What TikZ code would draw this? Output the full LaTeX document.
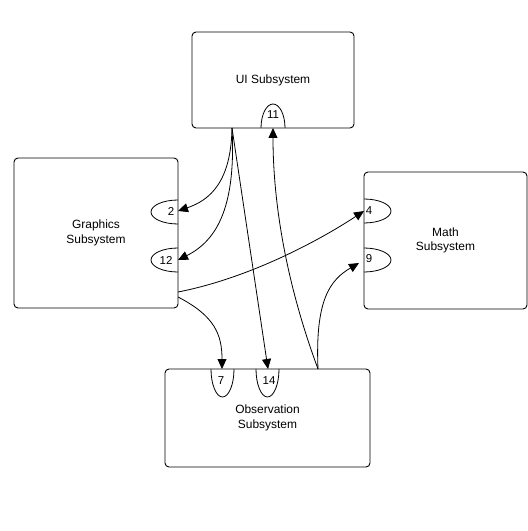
\documentclass[tikz,border=0pt]{standalone}
\usepackage{fontspec}
\setmainfont{Liberation Sans}
\usetikzlibrary{arrows.meta}
\begin{document}
\begin{tikzpicture}[x=1bp,y=-1bp,
  sys/.style={draw,line width=0.9bp,rounded corners=4bp,inner sep=0pt,align=center,
    font=\fontsize{12}{14.5}\selectfont},
  port/.style={draw,line width=0.8bp},
  plabel/.style={inner sep=0pt,font=\fontsize{11.5}{13}\selectfont},
  conn/.style={draw,line width=0.8bp},
  arr/.style={conn,-{Triangle[length=10bp,width=9bp]}}]
\useasboundingbox (0,0) rectangle (528,531);
% boxes
\node[sys,minimum width=162bp,minimum height=96bp] (ui) at (273,80) {UI Subsystem};
\node[sys,minimum width=164bp,minimum height=150bp] (gr) at (96,233) {Graphics\\Subsystem};
\node[sys,minimum width=163bp,minimum height=137bp] (ma) at (445.5,240.5) {Math\\Subsystem};
\node[sys,minimum width=205bp,minimum height=98bp] (ob) at (267.5,418) {Observation\\Subsystem};
% ports
\draw[port] (261,128) arc[start angle=180,end angle=360,x radius=12,y radius=24];
\draw[port] (178,224) arc[start angle=90,end angle=270,x radius=27,y radius=12];
\draw[port] (178,272) arc[start angle=90,end angle=270,x radius=27,y radius=12];
\draw[port] (364,199) arc[start angle=270,end angle=450,x radius=27,y radius=12];
\draw[port] (364,248) arc[start angle=270,end angle=450,x radius=27,y radius=12];
\draw[port] (211,369) arc[start angle=180,end angle=0,x radius=11.5,y radius=28];
\draw[port] (256,369) arc[start angle=180,end angle=0,x radius=11.5,y radius=28];
% port labels
\node[plabel] (p11) at (273,115) {11};
\node[plabel] (p2) at (171,211) {2};
\node[plabel] (p12) at (166,260) {12};
\node[plabel] (p4) at (369,211) {4};
\node[plabel] (p9) at (369,259) {9};
\node[plabel] (p7) at (221,381) {7};
\node[plabel] (p14) at (269,381) {14};
% anchor coordinates
\coordinate (uiout) at (232,128);
\coordinate (in2) at (178,211);
\coordinate (in12) at (178,260);
\coordinate (in14) at (268,369);
\coordinate (in11) at (273,128);
\coordinate (obout) at (318,369);
\coordinate (in9) at (359,263);
\coordinate (grout1) at (178,292);
\coordinate (grout2) at (178,297);
\coordinate (in4) at (364,211);
\coordinate (in7) at (222,369);
% connectors
\draw[arr] (uiout) .. controls (231,182) and (210,200) .. (in2);
\draw[arr] (uiout) .. controls (236,205) and (218,240) .. (in12);
\draw[arr] (uiout) -- (in14);
\draw[arr] (obout) .. controls (285,280) and (273,200) .. (in11);
\draw[arr] (obout) .. controls (315,300) and (330,280) .. (in9);
\draw[arr] (grout1) .. controls (250,278) and (320,240) .. (in4);
\draw[arr] (grout2) .. controls (215,316) and (222,335) .. (in7);
\end{tikzpicture}
\end{document}
